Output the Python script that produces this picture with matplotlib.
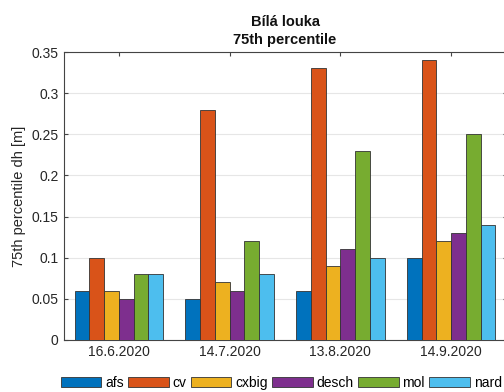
import numpy as np
import matplotlib.pyplot as plt
from matplotlib.patches import Patch

plt.rcParams['font.family'] = ['Liberation Sans', 'DejaVu Sans']
plt.rcParams['font.size'] = 10

dates = ['16.6.2020', '14.7.2020', '13.8.2020', '14.9.2020']
species = ['afs', 'cv', 'cxbig', 'desch', 'mol', 'nard']
afs = [0.06, 0.05, 0.06, 0.10]
cv = [0.10, 0.28, 0.33, 0.34]
cxbig = [0.06, 0.07, 0.09, 0.12]
desch = [0.05, 0.06, 0.11, 0.13]
mol = [0.08, 0.12, 0.23, 0.25]
nard = [0.08, 0.08, 0.10, 0.14]
series = [afs, cv, cxbig, desch, mol, nard]

# matlab default colour order
colors = ['#0072BD', '#D95319', '#EDB120', '#7E2F8E', '#77AC30', '#4DBEEE']

fig = plt.figure(figsize=(5.04, 3.92), dpi=100)
ax = fig.add_axes([0.126, 0.1327, 0.879, 0.7346])

x = np.arange(1, len(dates) + 1)
n = len(series)
w = 0.8 / n
for i, vals in enumerate(series):
    ax.bar(x - 0.4 + w * (i + 0.5), vals, width=w, color=colors[i],
           edgecolor='#333333', linewidth=0.6, label=species[i], zorder=3)

ax.set_xlim(0.5, 4.5)
ax.set_ylim(0, 0.35)
ax.set_xticks(x)
ax.set_xticklabels(dates)
yt = np.arange(0, 0.351, 0.05)
ax.set_yticks(yt)
ax.set_yticklabels(['0', '0.05', '0.1', '0.15', '0.2', '0.25', '0.3', '0.35'])
ax.yaxis.grid(True, color='#e6e6e6', linewidth=0.8, zorder=0)
ax.tick_params(direction='in', top=True, right=True, length=3,
               color='#444444', labelcolor='#262626', labelsize=10)
for s in ax.spines.values():
    s.set_color('#444444')
    s.set_linewidth(0.8)

ax.set_ylabel('75th percentile dh [m]', color='#262626', fontsize=10.5)
ax.set_title('Bílá louka\n75th percentile', fontweight='bold', fontsize=10.5,
             color='#111111', linespacing=1.3, pad=6)

handles = [Patch(facecolor=c, edgecolor='#333333', linewidth=0.6) for c in colors]
fig.legend(handles, species, loc='center left', bbox_to_anchor=(0.121, 0.024),
           ncol=6, frameon=False, handlelength=2.9, handleheight=0.75,
           handletextpad=0.28, columnspacing=0.33, borderpad=0,
           borderaxespad=0, fontsize=10)

fig.savefig('out.png', dpi=100)
